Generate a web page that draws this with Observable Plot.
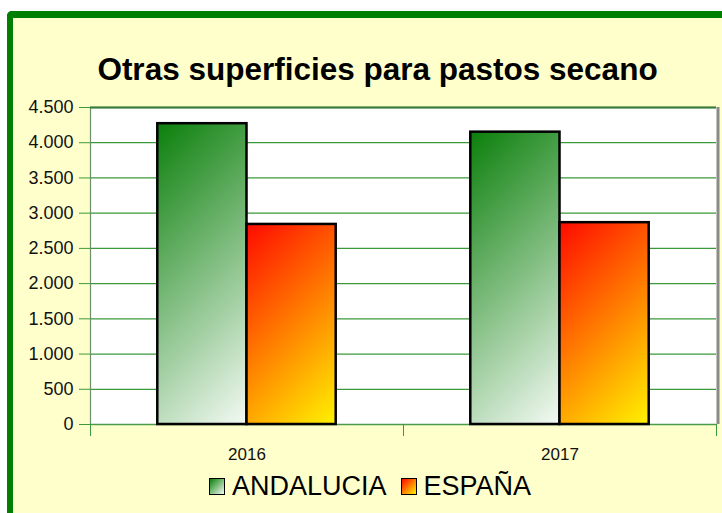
<!DOCTYPE html>
<html>
<head>
<meta charset="utf-8">
<script src="https://cdn.jsdelivr.net/npm/d3@7"></script>
<script src="https://cdn.jsdelivr.net/npm/@observablehq/plot@0.6"></script>
<style>
  html, body { margin: 0; padding: 0; background: #ffffff; width: 722px; height: 513px; overflow: hidden; font-family: "Liberation Sans", Arial, sans-serif; }
  #frame { position: absolute; left: 7px; top: 11px; width: 760px; height: 540px; background: #ffffcc; border-left: 6px solid #007f00; border-top: 7px solid #007f00; border-top-left-radius: 5px; box-sizing: border-box; }
  #title { position: absolute; left: 0; width: 755px; top: 51px; text-align: center; font-weight: bold; font-size: 31.5px; color: #000; white-space: nowrap; }
  #chart { position: absolute; left: 0; top: 95px; }
  #legend { position: absolute; left: 0; width: 740px; top: 471px; display: flex; justify-content: center; align-items: center; font-size: 27px; color: #000; white-space: nowrap; }
  .sw { width: 16px; height: 17px; border: 1px solid #000; box-sizing: border-box; margin-right: 7px; }
  .item { display: flex; align-items: center; margin: 0 7px; }
</style>
</head>
<body>
<div id="frame"></div>
<div id="title"></div>
<div id="chart"></div>
<div id="legend"></div>
<script>
const title = "Otras superficies para pastos secano";
const years = ["2016", "2017"];
const series = ["ANDALUCIA", "ESPAÑA"];
const andalucia = [4270, 4150];
const espana = [2840, 2865];
const yTicks = [0, 500, 1000, 1500, 2000, 2500, 3000, 3500, 4000, 4500];

const gradStops = [["#0b7f0b", "#f4faf4"], ["#ff0a00", "#fff200"]];
const groupPad = 0.215;
const barW = (1 - 2 * groupPad) / series.length;

const rows = years.flatMap((yr, i) => [
  {year: yr, i, s: 0, value: andalucia[i]},
  {year: yr, i, s: 1, value: espana[i]}
]);

const fmt = d => d3.format(",")(d).replace(/,/g, ".");
const green = "#3a9a3a";

const chart = Plot.plot({
  width: 722,
  height: 370,
  marginLeft: 90,
  marginRight: 6,
  marginTop: 12,
  marginBottom: 41,
  style: {background: "transparent", fontFamily: "'Liberation Sans', Arial, sans-serif", overflow: "visible"},
  x: {type: "linear", domain: [0, years.length], axis: null},
  y: {domain: [0, 4500], axis: null},
  color: {type: "identity"},
  marks: [
    Plot.frame({fill: "white", stroke: null}),
    Plot.ruleY(yTicks.slice(1), {stroke: green, strokeWidth: 1.3}),
    Plot.ruleX([0], {stroke: "#6b8e6b", strokeWidth: 1.2}),
    Plot.ruleX([years.length], {stroke: "#8a8a8a", strokeWidth: 3, dx: 1.5}),
    Plot.ruleY([4500], {stroke: "#3d7a3d", strokeWidth: 2}),
    Plot.ruleY([0], {stroke: "#4a9a4a", strokeWidth: 1.5}),
    Plot.rect(rows, {
      x1: d => d.i + groupPad + d.s * barW,
      x2: d => d.i + groupPad + (d.s + 1) * barW,
      y1: 0,
      y2: "value",
      fill: d => `url(#grad-${d.i}-${d.s})`,
      stroke: "#000",
      strokeWidth: 2.5
    }),
    Plot.axisY({ticks: yTicks, tickSize: 11, tickPadding: 6, tickFormat: fmt, stroke: green, fill: "#111", fontSize: 18, label: null}),
    Plot.axisX({ticks: d3.range(years.length + 1), tickSize: 12, tickFormat: () => "", stroke: green, label: null}),
    Plot.axisX({ticks: years.map((_, i) => i + 0.5), tickSize: 0, tickPadding: 23, tickFormat: d => years[Math.floor(d)], fill: "#111", fontSize: 17, label: null})
  ]
});

// Gradients: 45° diagonal from each bar's top-left to bottom-right corner
const sx = chart.scale("x"), sy = chart.scale("y");
const svg = d3.select(chart);
const defs = svg.insert("defs", ":first-child");
rows.forEach(d => {
  const left = sx.apply(d.i + groupPad + d.s * barW);
  const right = sx.apply(d.i + groupPad + (d.s + 1) * barW);
  const top = sy.apply(d.value), bottom = sy.apply(0);
  const k = ((right - left) + (bottom - top)) / 2;
  const g = defs.append("linearGradient")
    .attr("id", `grad-${d.i}-${d.s}`)
    .attr("gradientUnits", "userSpaceOnUse")
    .attr("x1", left).attr("y1", top).attr("x2", left + k).attr("y2", top + k);
  g.append("stop").attr("offset", 0).attr("stop-color", gradStops[d.s][0]);
  g.append("stop").attr("offset", 1).attr("stop-color", gradStops[d.s][1]);
});

document.getElementById("chart").appendChild(chart);
document.getElementById("title").textContent = title;

const legend = document.getElementById("legend");
series.forEach((name, s) => {
  const item = document.createElement("div");
  item.className = "item";
  const sw = document.createElement("div");
  sw.className = "sw";
  sw.style.background = `linear-gradient(135deg, ${gradStops[s][0]}, ${gradStops[s][1]})`;
  const label = document.createElement("span");
  label.textContent = name;
  item.appendChild(sw);
  item.appendChild(label);
  legend.appendChild(item);
});
</script>
</body>
</html>
